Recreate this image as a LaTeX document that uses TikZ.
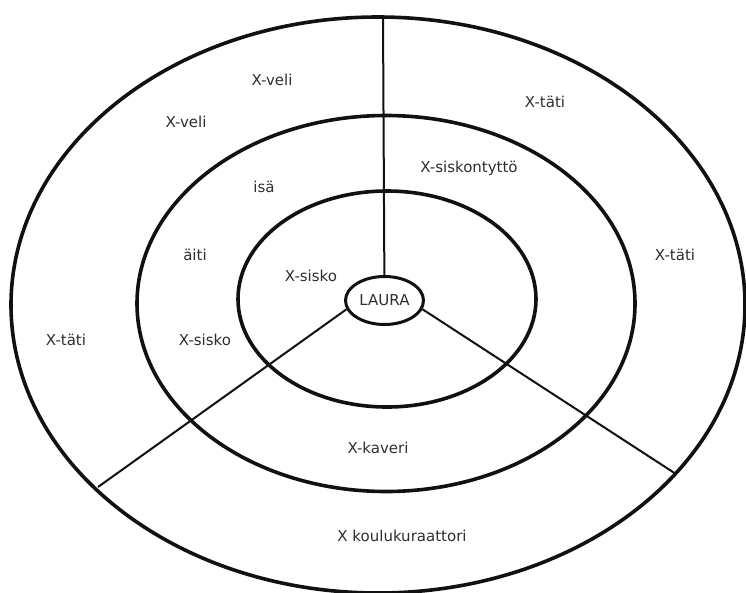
\documentclass[tikz,border=0pt]{standalone}
\usepackage{fontspec}
\setmainfont{DejaVu Sans}
\usetikzlibrary{shapes.geometric}
\definecolor{ink}{HTML}{111111}
\definecolor{ink2}{HTML}{2E2E2E}

\begin{document}
\begin{tikzpicture}[x=1pt,y=-1pt,
  ring/.style={draw=ink,line width=3.6pt},
  spoke/.style={draw=ink,line width=2pt},
  lbl/.style={font=\fontsize{15}{17}\selectfont,color=ink2,inner sep=0pt}]
  \useasboundingbox (0,0) rectangle (746,592);
  % rings
  \draw[ring] (378,305) ellipse [x radius=367,y radius=288];
  \draw[ring] (386,303.5) ellipse [x radius=249,y radius=188];
  \draw[ring] (387,299) ellipse [x radius=149,y radius=108];
  % centre and spokes
  \node[lbl,ellipse,draw=ink,line width=3pt,minimum width=78pt,minimum height=48pt] (laura) at (384.5,300.5) {LAURA};
  \coordinate (top) at (383,17);
  \coordinate (bl) at (98,487);
  \coordinate (br) at (676,474);
  \draw[spoke] (laura) -- (top);
  \draw[spoke] (laura.193) -- (bl);
  \draw[spoke] (laura.-13) -- (br);
  % names
  \foreach \nm/\xx/\yy/\txt in {veliup/272/80/X-veli, velilo/186/122/X-veli,
      tatiup/545/102/X-täti, niece/469/168/X-siskontyttö, isa/264/187/isä,
      aiti/195/255/äiti, tatiri/675/255/X-täti, siskoin/311/276/X-sisko,
      tatile/66/340/X-täti, siskomid/205/340/X-sisko, kaveri/378/448/X-kaveri,
      kuraattori/402/536/X koulukuraattori} {
    \node[lbl] (\nm) at (\xx,\yy) {\txt};
  }
\end{tikzpicture}
\end{document}
